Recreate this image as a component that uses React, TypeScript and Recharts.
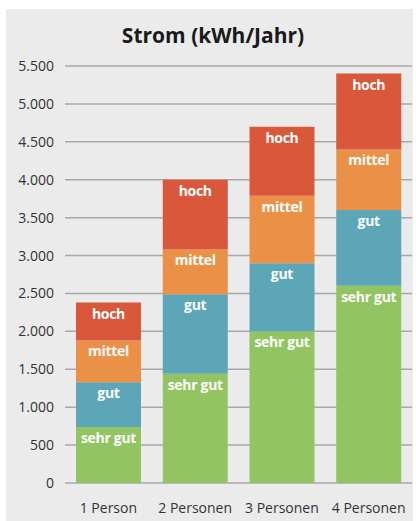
import React from 'react';
import { BarChart, Bar, XAxis, YAxis, CartesianGrid, LabelList } from 'recharts';

const categories = ['1 Person', '2 Personen', '3 Personen', '4 Personen'];
const sehrGut = [740, 1440, 2000, 2600];
const gut = [590, 1050, 900, 1000];
const mittel = [550, 590, 890, 800];
const hoch = [500, 920, 910, 1000];
const yTicks = [0, 500, 1000, 1500, 2000, 2500, 3000, 3500, 4000, 4500, 5000, 5500];

const font = '"Open Sans", sans-serif';

const series = [
  { key: 'sehrGut', label: 'sehr gut', color: '#92c462' },
  { key: 'gut', label: 'gut', color: '#5ca6b8' },
  { key: 'mittel', label: 'mittel', color: '#eb9147' },
  { key: 'hoch', label: 'hoch', color: '#d9573a' },
];

const data = categories.map((name, i) => ({
  name,
  sehrGut: sehrGut[i],
  gut: gut[i],
  mittel: mittel[i],
  hoch: hoch[i],
}));

// 5500 -> "5.500"
const formatDe = (v: number) => String(v).replace(/\B(?=(\d{3})+(?!\d))/g, '.');

// plain svg text so recharts doesn't wrap "sehr gut" inside the bar width
const segmentLabel = (text: string) => (props: any) => {
  const { x, y, width } = props;
  return (
    <text
      x={Number(x) + Number(width) / 2}
      y={Number(y) + 16}
      textAnchor="middle"
      fill="#fff"
      style={{ fontSize: 14, fontWeight: 700, fontFamily: font, letterSpacing: -0.3 }}
    >
      {text}
    </text>
  );
};

const App: React.FC = () => {
  return (
    <div style={{ position: 'absolute', left: 0, top: 0, width: 416, height: 521, background: '#fff', fontFamily: font }}>
      <div style={{ position: 'absolute', left: 6, top: 9, width: 407, height: 512, background: '#ebebeb' }} />
      <div
        style={{
          position: 'absolute',
          left: 6,
          top: 20,
          width: 414,
          textAlign: 'center',
          fontSize: 21,
          fontWeight: 700,
          color: '#1a1a1a',
          lineHeight: '30px',
        }}
      >
        Strom (kWh/Jahr)
      </div>
      <div style={{ position: 'absolute', left: 0, top: 0 }}>
        <BarChart width={416} height={521} data={data} margin={{ top: 66, right: 4, left: 0, bottom: 0 }} barSize={65}>
          <CartesianGrid vertical={false} stroke="#a8a8a8" strokeWidth={1.5} />
          <XAxis
            dataKey="name"
            height={38}
            axisLine={false}
            tickLine={false}
            tickSize={0}
            tickMargin={20}
            tick={{ fill: '#333', fontSize: 14, fontFamily: font }}
          />
          <YAxis
            domain={[0, 5500]}
            ticks={yTicks}
            width={65}
            axisLine={false}
            tickLine={false}
            tickSize={0}
            tickMargin={11}
            tickFormatter={formatDe}
            tick={{ fill: '#333', fontSize: 14, fontFamily: font }}
          />
          {series.map((s) => (
            <Bar key={s.key} dataKey={s.key} stackId="a" fill={s.color} isAnimationActive={false}>
              <LabelList dataKey={s.key} content={segmentLabel(s.label)} />
            </Bar>
          ))}
        </BarChart>
      </div>
    </div>
  );
};

export default App;
